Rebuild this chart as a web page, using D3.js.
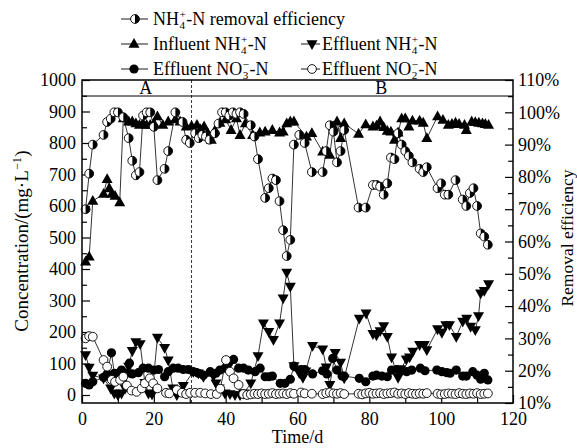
<!DOCTYPE html>
<html><head><meta charset="utf-8">
<script src="https://cdn.jsdelivr.net/npm/d3@7"></script>
<style>body{margin:0;background:#fff}</style>
</head><body><svg id="c" width="577" height="448"></svg>
<script>
// ---------- DATA ----------
const effDays=[1,2,3,6,7,8,9,10,11.5,13,14,15,16,17,18,19,20,21,23,24,26,28,29,30,31.5,32.5,33.5,34.5,35.5,37,38,39,40,41,42,43,44,45,47,48,49,51,52,53,54,55,56,57,58,59,60.5,62,64,67,68,69,70,71,72,73,77,79,81,82,83,84,85,86,87,88,89,90,91,92,94,95,96,99,100,101,102,104,106,107,108,109,110,111,112,113];
const effVals=[70,81,90,93,97,98,100,100,98.5,92,85,80.5,81.5,99,100,100,95.5,79,82.5,88,100,97,91.5,90.5,93.5,92,93,92.5,91.5,93.5,96.5,100,100,99,100,99.5,100,99.5,96,92.5,85.5,73.5,76.5,79.5,79,72.5,63.5,55.5,60.5,90,93,90.5,81.5,81.5,88,96,94,84.5,88,94.5,70.5,70.5,77.5,77.5,77,74.5,78,86,85.5,93.5,90,88,86.5,84.5,82.5,81.5,83,76.5,78,74.5,74.5,79,73,71,75,76.5,71,62.5,61.5,59];

const infDays=[1,2,3,6,7,7.6,8.3,9.2,10.5,11.5,13,14,15,16,17,18,19,20,21,22.5,24,26,27.3,29,30.5,32,33,34,35,36,37,38.4,40,41.5,43,44,45.5,47.5,49.5,51,53,55,56,57,58,59,62.5,64,67,69,70,71,72,73,77,79,81,82,83,84,85,86,87,88,89,90,91,92,94,95,96,99,100.5,102,103,104,105,106.5,107,108.5,109.5,110.5,111.5,112.3,113.2];
const infVals=[423,439,616,638,685,656,638,632,611,878,868,868,862,857,862,857,857,862,884,857,868,875,868,852,854,857,843,852,831,810,840,864,875,841,878,825,862,825,833,836,841,833,836,862,868,868,820,831,772,762,852,868,815,862,829,859,852,855,868,850,838,836,810,833,878,878,852,871,871,864,815,884,873,857,860,864,860,857,841,868,866,864,862,860,857];

const effNDays=[1,2,3,6,8,9,10,11,12,13,14,15,16.2,17.5,18.5,19.5,21,23,24,25.3,26.4,28.2,31,32.4,33.8,36.6,37.3,38.2,39.8,41.2,42.6,44,45,47,49,50.5,52,53.3,55,56,57,58,59,60.5,61.5,62.3,64.2,67,68,69,70.5,72,73,77.2,79.1,81,82,83,84,85,86.2,88,88.8,90.3,91.2,92.1,94,95.3,96,99,100.2,101.3,102.3,104.2,106,107.1,108.2,109.5,110.4,111,112,113.2];
const effNVals=[127,87,62,53,21,5,0,5,21,90,140,168,162,39,5,2,182,150,110,21,0,29,74,69,58,60,37,21,5,3,0,0,5,37,124,228,201,175,228,307,389,344,92,70,55,75,156,145,88,32,134,103,53,243,259,194,190,203,219,185,120,55,82,113,120,138,159,159,143,209,198,222,222,185,233,243,217,206,251,323,331,352];

const no3Days=[1,2,3,6,7,8.2,9,10,11,12.4,13.2,14,15.7,17,18.5,20,21.3,23,24,25.4,26.8,28.2,29.6,31,32.4,33.8,35.7,37.3,38.4,39.8,40.8,42.2,43.6,45,46.3,48.2,49.6,51,52,53,55.2,56.5,58,59,61,62,64.2,67,68.2,69.8,71,72.4,73,77.2,79,81,82,83.5,85,86.2,87.6,89,90.4,91.8,94.2,95.5,98.8,100.2,101.6,102.5,104.2,106,107,108.8,110,111,112,113];
const no3Vals=[37,32,42,56,67,134,69,69,79,69,101,67,71,85,85,79,81,58,74,85,85,81,81,74,69,63,74,69,79,85,101,113,85,85,79,74,85,58,58,60,37,37,50,92,81,81,67,77,67,116,79,60,60,53,42,60,63,60,58,79,81,77,74,79,85,77,79,74,71,69,79,60,60,74,63,50,69,48];

const no2Days=[1,2,3,6,7,8.3,9.2,10.6,11.5,12.5,13.8,15.2,16.6,17.5,18.9,19.8,21,23.4,24.3,26.4,27.8,29,30.1,31.5,32.9,34.3,35.9,37.5,38.5,40.1,41.2,42.2,43.6,44.9,46,47,48,49,50,51,52,53,54,55,56,57,58,59,61,62,64,67,68,69,70,71,72,73,77,78,79,80,81,82,83,84,85,86,87,88,89,90,91,92,93,94,95,96,99,100,101,102,103,104,105,106,107,108,109,110,111,112,113];
const no2Vals=[180,187,185,111,90,48,42,48,58,30,14,10,21,37,53,37,21,7,5,16,7,3,7,7,7,5,3,3,20,111,74,53,32,3,0,2,4,3,5,3,4,6,3,4,5,3,6,4,8,5,4,3,6,8,5,4,6,3,4,2,5,7,4,5,6,3,5,6,8,4,5,3,6,4,3,5,4,6,4,2,3,5,4,3,6,4,3,5,4,6,3,4,5];

const xTicks=[0,20,40,60,80,100,120];
const yTicks=[0,100,200,300,400,500,600,700,800,900,1000];
const y2Ticks=[10,20,30,40,50,60,70,80,90,100,110];
const phaseLabels=["A","B"];
const phaseSplit=30.5;

// ---------- CHART ----------
const svg=d3.select('#c');
const FONT='"Liberation Serif","Times New Roman",serif';
const L=82,R=513,T=80,B=403;
const x=d3.scaleLinear().domain([0,120]).range([L,R]);
const y=d3.scaleLinear().domain([-25.4,1000]).range([B,T]);
const y2=d3.scaleLinear().domain([10,110]).range([B,T]);

function styleAxis(g,fs){
  g.select('.domain').remove();
  g.selectAll('line').attr('stroke','#000').attr('stroke-width',1.2);
  g.selectAll('text').style('font-family',FONT).style('font-size',fs+'px').attr('fill','#000');
}
// bottom
svg.append('g').attr('transform',`translate(0,${B})`)
  .call(d3.axisBottom(x).tickValues(xTicks).tickFormat(d=>String(d)).tickSizeInner(-8).tickSizeOuter(0).tickPadding(9)).call(g=>styleAxis(g,18));
svg.append('g').attr('transform',`translate(0,${B})`)
  .call(d3.axisBottom(x).tickValues(d3.range(10,120,20)).tickFormat('').tickSizeInner(-5).tickSizeOuter(0)).call(g=>styleAxis(g,18));
// left
svg.append('g').attr('transform',`translate(${L},0)`)
  .call(d3.axisLeft(y).tickValues(yTicks).tickFormat(d=>String(d)).tickSizeInner(-8).tickSizeOuter(0).tickPadding(6)).call(g=>styleAxis(g,18));
svg.append('g').attr('transform',`translate(${L},0)`)
  .call(d3.axisLeft(y).tickValues(d3.range(50,1000,100)).tickFormat('').tickSizeInner(-5).tickSizeOuter(0)).call(g=>styleAxis(g,18));
// right
svg.append('g').attr('transform',`translate(${R},0)`)
  .call(d3.axisRight(y2).tickValues(y2Ticks).tickFormat(d=>d+'%').tickSizeInner(-8).tickSizeOuter(0).tickPadding(5)).call(g=>styleAxis(g,18));
svg.append('g').attr('transform',`translate(${R},0)`)
  .call(d3.axisRight(y2).tickValues(d3.range(15,110,10)).tickFormat('').tickSizeInner(-5).tickSizeOuter(0)).call(g=>styleAxis(g,18));

// phase band
svg.append('line').attr('x1',L).attr('x2',R).attr('y1',96).attr('y2',96).attr('stroke','#000').attr('stroke-width',1);
svg.append('line').attr('x1',x(phaseSplit)).attr('x2',x(phaseSplit)).attr('y1',T).attr('y2',B)
  .attr('stroke','#000').attr('stroke-width',0.8).attr('stroke-dasharray','3,2');
svg.append('text').attr('x',(L+x(phaseSplit))/2+9).attr('y',94).attr('text-anchor','middle')
  .style('font-family',FONT).style('font-size','18px').text(phaseLabels[0]);
svg.append('text').attr('x',(x(phaseSplit)+R)/2+29).attr('y',94).attr('text-anchor','middle')
  .style('font-family',FONT).style('font-size','18px').text(phaseLabels[1]);

// markers
const tri='M0,-6L5.5,3.8L-5.5,3.8Z';
const triD='M0,6L5.5,-3.8L-5.5,-3.8Z';
function marker(g,type){
  if(type==='up') g.append('path').attr('d',tri).attr('fill','#000');
  else if(type==='down') g.append('path').attr('d',triD).attr('fill','#000');
  else if(type==='dot') g.append('circle').attr('r',4.6).attr('fill','#000');
  else if(type==='open') g.append('circle').attr('r',4.4).attr('fill','#fff').attr('stroke','#000').attr('stroke-width',0.9);
  else if(type==='half'){
    g.append('circle').attr('r',4.4).attr('fill','#fff').attr('stroke','#000').attr('stroke-width',0.9);
    g.append('path').attr('d','M0,-4.4A4.4,4.4 0 0 1 0,4.4Z').attr('fill','#000');
  }
}
function series(days,vals,ys,type){
  const pts=days.map((d,i)=>[x(d),ys(vals[i])]);
  const g=svg.append('g');
  g.append('path').attr('d',d3.line()(pts)).attr('fill','none').attr('stroke','#000').attr('stroke-width',0.8);
  g.selectAll('g.m').data(pts).join('g').attr('class','m').attr('transform',p=>`translate(${p[0]},${p[1]})`)
    .each(function(){marker(d3.select(this),type);});
}
series(no3Days,no3Vals,y,'dot');
series(effNDays,effNVals,y,'down');
series(no2Days,no2Vals,y,'open');
series(infDays,infVals,y,'up');
series(effDays,effVals,y2,'half');

// frame
svg.append('rect').attr('x',L).attr('y',T).attr('width',R-L).attr('height',B-T)
  .attr('fill','none').attr('stroke','#000').attr('stroke-width',1.5);

// chemical-style text
function chem(parent,x0,y0,parts,fs){
  const g=parent.append('g');
  let cx=0;
  const small=fs*0.62;
  parts.forEach(p=>{
    if(typeof p==='string'){
      const t=g.append('text').attr('x',cx).attr('y',0).style('font-family',FONT).style('font-size',fs+'px').style('white-space','pre').text(p);
      cx+=t.node().getComputedTextLength();
    } else {
      let w=0;
      if(p.sup){const t=g.append('text').attr('x',cx+0.5).attr('y',-fs*0.38).style('font-family',FONT).style('font-size',small+'px').text(p.sup);w=Math.max(w,t.node().getComputedTextLength());}
      if(p.sub){const t=g.append('text').attr('x',cx+0.5).attr('y',fs*0.22).style('font-family',FONT).style('font-size',small+'px').text(p.sub);w=Math.max(w,t.node().getComputedTextLength());}
      cx+=w+1;
    }
  });
  g.attr('transform',`translate(${x0},${y0})`);
  return {g,width:cx};
}
const FS=18;
// legend
const leg=svg.append('g');
function legSym(cx,cy,x1,x2,type){
  leg.append('line').attr('x1',x1).attr('x2',x2).attr('y1',cy).attr('y2',cy).attr('stroke','#000').attr('stroke-width',0.9);
  const g=leg.append('g').attr('transform',`translate(${cx},${cy})`);marker(g,type);
}
legSym(135,19,121,148,'half');
chem(leg,153,25,['NH',{sup:'+',sub:'4'},'-N removal efficiency'],FS);
legSym(134,44,121,148,'up');
chem(leg,153,50,['Influent NH',{sup:'+',sub:'4'},'-N'],FS);
legSym(312,44,301,320,'down');
chem(leg,322,50,['Effluent NH',{sup:'+',sub:'4'},'-N'],FS);
legSym(134,69,121,148,'dot');
chem(leg,153,75,['Effluent NO',{sup:'−',sub:'3'},'-N'],FS);
legSym(312,69,301,320,'open');
chem(leg,322,75,['Effluent NO',{sup:'−',sub:'2'},'-N'],FS);

// axis titles
svg.append('text').attr('x',(L+R)/2).attr('y',443).attr('text-anchor','middle')
  .style('font-family',FONT).style('font-size',FS+'px').text('Time/d');
const yt=svg.append('g');
const c1=chem(yt,0,0,['Concentration/(mg·L',{sup:'−1'},')'],19);
c1.g.attr('transform',`translate(28,${241+c1.width/2}) rotate(-90)`);
svg.append('text').attr('transform',`translate(573,238) rotate(-90)`).attr('text-anchor','middle')
  .style('font-family',FONT).style('font-size','17.5px').text('Removal efficiency');
</script></body></html>
